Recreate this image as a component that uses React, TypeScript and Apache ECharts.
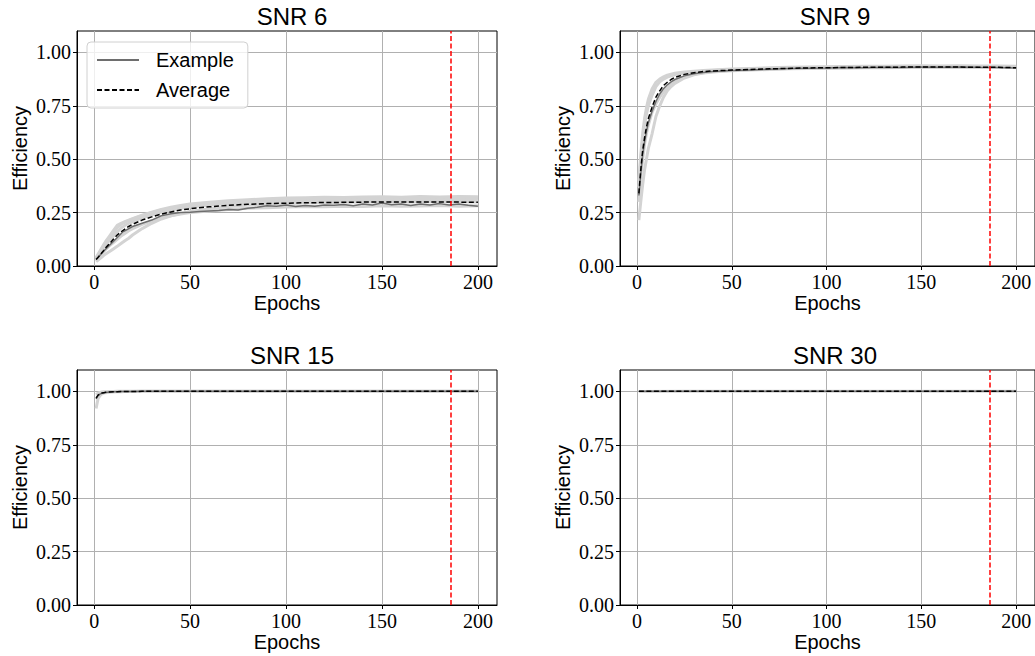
import React, { useEffect, useRef } from "react";
import * as echarts from "echarts";

const SANS = "'Liberation Sans', Arial, Helvetica, sans-serif";
const SERIF = "'Liberation Serif', 'DejaVu Serif', serif";

const STOP_EPOCH = 186;
const X_TICKS = [0, 50, 100, 150, 200];
const Y_TICKS = [0, 0.25, 0.5, 0.75, 1.0];
const TITLES = ["SNR 6", "SNR 9", "SNR 15", "SNR 30"];

const EPOCHS = [1, 2, 3, 4, 5, 6, 8, 10, 12, 14, 16, 18, 20, 25, 30, 35, 40, 45, 50, 60, 70, 80, 90, 100, 110, 120, 130, 140, 150, 160, 170, 180, 190, 200];

// ---------- SNR 6 ----------
const SNR6_AVG = [0.03, 0.04, 0.05, 0.062, 0.073, 0.085, 0.105, 0.125, 0.145, 0.16, 0.173, 0.185, 0.195, 0.215, 0.23, 0.243, 0.253, 0.262, 0.268, 0.277, 0.284, 0.289, 0.292, 0.294, 0.296, 0.297, 0.298, 0.299, 0.3, 0.3, 0.3, 0.3, 0.299, 0.298];
const SNR6_EX_EPOCHS = [1, 5, 10, 15, 20, 25, 30, 35, 40, 45, 50, 55, 60, 65, 70, 75, 80, 85, 90, 95, 100, 105, 110, 115, 120, 125, 130, 135, 140, 145, 150, 155, 160, 165, 170, 175, 180, 185, 190, 195, 200];
const SNR6_EX = [0.03, 0.07, 0.115, 0.16, 0.185, 0.2, 0.215, 0.235, 0.245, 0.25, 0.252, 0.255, 0.258, 0.26, 0.265, 0.262, 0.27, 0.275, 0.282, 0.28, 0.285, 0.278, 0.283, 0.28, 0.286, 0.284, 0.288, 0.282, 0.29, 0.286, 0.295, 0.287, 0.29, 0.283, 0.29, 0.286, 0.292, 0.285, 0.29, 0.284, 0.28];
const SNR6_RUN_A = [0.03, 0.045, 0.06, 0.075, 0.09, 0.105, 0.13, 0.155, 0.18, 0.195, 0.205, 0.212, 0.22, 0.235, 0.25, 0.262, 0.27, 0.278, 0.285, 0.293, 0.3, 0.305, 0.308, 0.31, 0.314, 0.312, 0.316, 0.315, 0.318, 0.316, 0.319, 0.317, 0.32, 0.318];
const SNR6_RUN_B = [0.02, 0.028, 0.035, 0.042, 0.05, 0.056, 0.068, 0.08, 0.092, 0.105, 0.118, 0.13, 0.145, 0.175, 0.2, 0.22, 0.235, 0.245, 0.255, 0.268, 0.278, 0.285, 0.29, 0.293, 0.295, 0.296, 0.298, 0.3, 0.299, 0.301, 0.3, 0.302, 0.301, 0.3];
const SNR6_RUN_C = [0.035, 0.05, 0.065, 0.08, 0.092, 0.1, 0.12, 0.14, 0.16, 0.178, 0.19, 0.2, 0.208, 0.225, 0.24, 0.252, 0.262, 0.27, 0.276, 0.285, 0.292, 0.298, 0.302, 0.305, 0.306, 0.308, 0.307, 0.31, 0.312, 0.31, 0.311, 0.313, 0.31, 0.312];
const SNR6_RUN_D = [0.03, 0.038, 0.048, 0.058, 0.068, 0.078, 0.095, 0.11, 0.125, 0.14, 0.152, 0.165, 0.175, 0.195, 0.21, 0.225, 0.235, 0.243, 0.25, 0.258, 0.264, 0.27, 0.273, 0.276, 0.278, 0.277, 0.28, 0.279, 0.282, 0.28, 0.281, 0.283, 0.28, 0.282];
const SNR6_RUN_E = [0.04, 0.055, 0.07, 0.085, 0.1, 0.115, 0.14, 0.165, 0.19, 0.2, 0.208, 0.215, 0.222, 0.238, 0.252, 0.265, 0.275, 0.283, 0.29, 0.298, 0.305, 0.31, 0.315, 0.318, 0.32, 0.322, 0.321, 0.323, 0.324, 0.322, 0.325, 0.323, 0.325, 0.324];

// ---------- SNR 9 ----------
const SNR9_AVG = [0.34, 0.45, 0.54, 0.6, 0.65, 0.69, 0.745, 0.79, 0.82, 0.845, 0.86, 0.873, 0.883, 0.897, 0.905, 0.91, 0.913, 0.915, 0.917, 0.92, 0.923, 0.925, 0.927, 0.928, 0.929, 0.93, 0.93, 0.931, 0.931, 0.931, 0.931, 0.93, 0.93, 0.928];
const SNR9_EX = [0.33, 0.43, 0.52, 0.58, 0.63, 0.67, 0.725, 0.77, 0.805, 0.83, 0.848, 0.862, 0.873, 0.89, 0.9, 0.906, 0.91, 0.913, 0.915, 0.918, 0.921, 0.924, 0.926, 0.927, 0.929, 0.928, 0.93, 0.929, 0.931, 0.93, 0.932, 0.93, 0.929, 0.927];
const SNR9_RUN_A = [0.4, 0.52, 0.62, 0.69, 0.74, 0.78, 0.83, 0.86, 0.875, 0.885, 0.893, 0.898, 0.902, 0.908, 0.912, 0.915, 0.918, 0.92, 0.922, 0.925, 0.928, 0.93, 0.932, 0.933, 0.934, 0.935, 0.935, 0.936, 0.937, 0.936, 0.937, 0.936, 0.936, 0.935];
const SNR9_RUN_B = [0.215, 0.3, 0.38, 0.45, 0.5, 0.55, 0.62, 0.7, 0.75, 0.79, 0.82, 0.84, 0.855, 0.88, 0.895, 0.903, 0.908, 0.911, 0.914, 0.918, 0.92, 0.923, 0.925, 0.926, 0.927, 0.928, 0.928, 0.929, 0.929, 0.93, 0.929, 0.93, 0.929, 0.93];
const SNR9_RUN_C = [0.3, 0.42, 0.5, 0.57, 0.62, 0.66, 0.72, 0.76, 0.79, 0.815, 0.835, 0.85, 0.865, 0.885, 0.897, 0.905, 0.91, 0.913, 0.916, 0.92, 0.922, 0.925, 0.926, 0.927, 0.928, 0.929, 0.929, 0.93, 0.93, 0.93, 0.931, 0.93, 0.93, 0.929];
const SNR9_RUN_D = [0.37, 0.5, 0.59, 0.66, 0.71, 0.75, 0.8, 0.84, 0.862, 0.875, 0.884, 0.89, 0.895, 0.903, 0.908, 0.912, 0.915, 0.917, 0.919, 0.922, 0.925, 0.927, 0.929, 0.93, 0.931, 0.932, 0.932, 0.933, 0.933, 0.933, 0.934, 0.933, 0.933, 0.932];

// ---------- SNR 15 ----------
const SNR15_AVG = [0.968, 0.982, 0.988, 0.992, 0.994, 0.996, 0.997, 0.998, 0.998, 0.999, 0.999, 0.999, 0.999, 1.0, 1.0, 1.0, 1.0, 1.0, 1.0, 1.0, 1.0, 1.0, 1.0, 1.0, 1.0, 1.0, 1.0, 1.0, 1.0, 1.0, 1.0, 1.0, 1.0, 1.0];
const SNR15_EX = [0.965, 0.98, 0.987, 0.991, 0.993, 0.995, 0.997, 0.998, 0.998, 0.999, 0.999, 0.999, 0.999, 1.0, 1.0, 1.0, 1.0, 1.0, 1.0, 1.0, 1.0, 1.0, 1.0, 1.0, 1.0, 1.0, 1.0, 1.0, 1.0, 1.0, 1.0, 1.0, 1.0, 1.0];
const SNR15_RUN_A = [0.92, 0.965, 0.98, 0.988, 0.992, 0.994, 0.996, 0.997, 0.998, 0.998, 0.999, 0.999, 0.999, 1.0, 1.0, 1.0, 1.0, 1.0, 1.0, 1.0, 1.0, 1.0, 1.0, 1.0, 1.0, 1.0, 1.0, 1.0, 1.0, 1.0, 1.0, 1.0, 1.0, 1.0];
const SNR15_RUN_B = [0.985, 0.992, 0.995, 0.997, 0.998, 0.998, 0.999, 0.999, 1.0, 1.0, 1.0, 1.0, 1.0, 1.0, 1.0, 1.0, 1.0, 1.0, 1.0, 1.0, 1.0, 1.0, 1.0, 1.0, 1.0, 1.0, 1.0, 1.0, 1.0, 1.0, 1.0, 1.0, 1.0, 1.0];

// ---------- SNR 30 ----------
const SNR30_EPOCHS = [1, 25, 50, 75, 100, 125, 150, 175, 200];
const SNR30_AVG = [1.0, 1.0, 1.0, 1.0, 1.0, 1.0, 1.0, 1.0, 1.0];
const SNR30_EX = [1.0, 1.0, 1.0, 1.0, 1.0, 1.0, 1.0, 1.0, 1.0];
const SNR30_RUN_A = [0.999, 1.0, 1.0, 1.0, 1.0, 1.0, 1.0, 1.0, 1.0];

const PANELS = [
  { runs: [SNR6_RUN_A, SNR6_RUN_B, SNR6_RUN_C, SNR6_RUN_D, SNR6_RUN_E].map((r) => ({ x: EPOCHS, y: r })), ex: { x: SNR6_EX_EPOCHS, y: SNR6_EX }, avg: { x: EPOCHS, y: SNR6_AVG } },
  { runs: [SNR9_RUN_A, SNR9_RUN_B, SNR9_RUN_C, SNR9_RUN_D].map((r) => ({ x: EPOCHS, y: r })), ex: { x: EPOCHS, y: SNR9_EX }, avg: { x: EPOCHS, y: SNR9_AVG } },
  { runs: [SNR15_RUN_A, SNR15_RUN_B].map((r) => ({ x: EPOCHS, y: r })), ex: { x: EPOCHS, y: SNR15_EX }, avg: { x: EPOCHS, y: SNR15_AVG } },
  { runs: [SNR30_RUN_A].map((r) => ({ x: SNR30_EPOCHS, y: r })), ex: { x: SNR30_EPOCHS, y: SNR30_EX }, avg: { x: SNR30_EPOCHS, y: SNR30_AVG } },
];

const pairs = (d: { x: number[]; y: number[] }) => d.x.map((x, i) => [x, d.y[i]]);

export default function App() {
  const ref = useRef<HTMLDivElement>(null);
  useEffect(() => {
    if (!ref.current) return;
    const chart = echarts.init(ref.current, undefined, { renderer: "svg" });
    const layout = [
      { left: 77, top: 31 },
      { left: 620, top: 31 },
      { left: 77, top: 370 },
      { left: 620, top: 370 },
    ];
    const W = 420;
    const H = 235;
    const grid = layout.map((l) => ({
      left: l.left, top: l.top, width: W, height: H,
      show: true, borderColor: "#000", borderWidth: 1, backgroundColor: "transparent",
      containLabel: false,
    }));
    const xAxis = layout.map((_, i) => ({
      type: "value", gridIndex: i, min: -8.95, max: 209.95,
      axisLine: { show: true, onZero: false, lineStyle: { color: "#000", width: 1 } },
      axisTick: { show: true, customValues: X_TICKS, length: 4, lineStyle: { color: "#000" } },
      axisLabel: { customValues: X_TICKS, fontFamily: SERIF, fontSize: 20, color: "#000", margin: 6 },
      splitLine: { show: true, lineStyle: { color: "#b0b0b0", width: 1 } },
      name: "Epochs", nameLocation: "middle", nameGap: 24,
      nameTextStyle: { fontFamily: SANS, fontSize: 20, color: "#000" },
    }));
    const yAxis = layout.map((_, i) => ({
      type: "value", gridIndex: i, min: 0, max: 1.1,
      axisLine: { show: true, onZero: false, lineStyle: { color: "#000", width: 1 } },
      axisTick: { show: true, customValues: Y_TICKS, length: 4, lineStyle: { color: "#000" } },
      axisLabel: { customValues: Y_TICKS, fontFamily: SERIF, fontSize: 20, color: "#000", margin: 6, formatter: (v: number) => v.toFixed(2) },
      splitLine: { show: true, lineStyle: { color: "#b0b0b0", width: 1 } },
      name: "Efficiency", nameLocation: "middle", nameGap: 47,
      nameTextStyle: { fontFamily: SANS, fontSize: 20, color: "#000" },
    }));
    const title = layout.map((l, i) => ({
      text: TITLES[i], left: l.left + W / 2, top: l.top - 32, textAlign: "center",
      textStyle: { fontFamily: SANS, fontSize: 24, fontWeight: "normal", color: "#000" },
    }));
    const series: any[] = [];
    PANELS.forEach((p, i) => {
      p.runs.forEach((r) => {
        series.push({
          type: "line", name: "Run", xAxisIndex: i, yAxisIndex: i, data: pairs(r),
          symbol: "none", showSymbol: false, silent: true, z: 2,
          lineStyle: { color: "#d3d3d3", width: 3 },
        });
      });
      series.push({
        type: "line", name: "Example", xAxisIndex: i, yAxisIndex: i, data: pairs(p.ex),
        symbol: "none", showSymbol: false, silent: true, z: 3,
        color: "#6e6e6e",
        lineStyle: { color: "#6e6e6e", width: 1.5 },
      });
      series.push({
        type: "line", name: "Average", xAxisIndex: i, yAxisIndex: i, data: pairs(p.avg),
        symbol: "none", showSymbol: false, silent: true, z: 4,
        color: "#000",
        lineStyle: { color: "#000", width: 1.5, type: [5, 2.5] },
        markLine: {
          symbol: "none", silent: true, label: { show: false },
          lineStyle: { color: "#ff0000", width: 1.5, type: [5, 2.5] },
          data: [{ xAxis: STOP_EPOCH }],
        },
      });
    });
    chart.setOption({
      animation: false,
      backgroundColor: "#fff",
      title,
      grid,
      xAxis,
      yAxis,
      legend: {
        data: ["Example", "Average"],
        orient: "vertical", left: 87, top: 42,
        itemWidth: 42, itemHeight: 12, itemGap: 10,
        selectedMode: false,
        itemStyle: { opacity: 0, borderWidth: 0 },
        textStyle: { fontFamily: SANS, fontSize: 20, color: "#000", padding: [0, 0, 0, 12] },
        backgroundColor: "rgba(255,255,255,0.8)", borderColor: "#d0d0d0", borderWidth: 1, borderRadius: 4,
        padding: [8, 14, 8, 9],
      },
      series,
    });
    return () => chart.dispose();
  }, []);
  return <div ref={ref} style={{ position: "fixed", left: 0, top: 0, width: 1035, height: 656 }} />;
}
